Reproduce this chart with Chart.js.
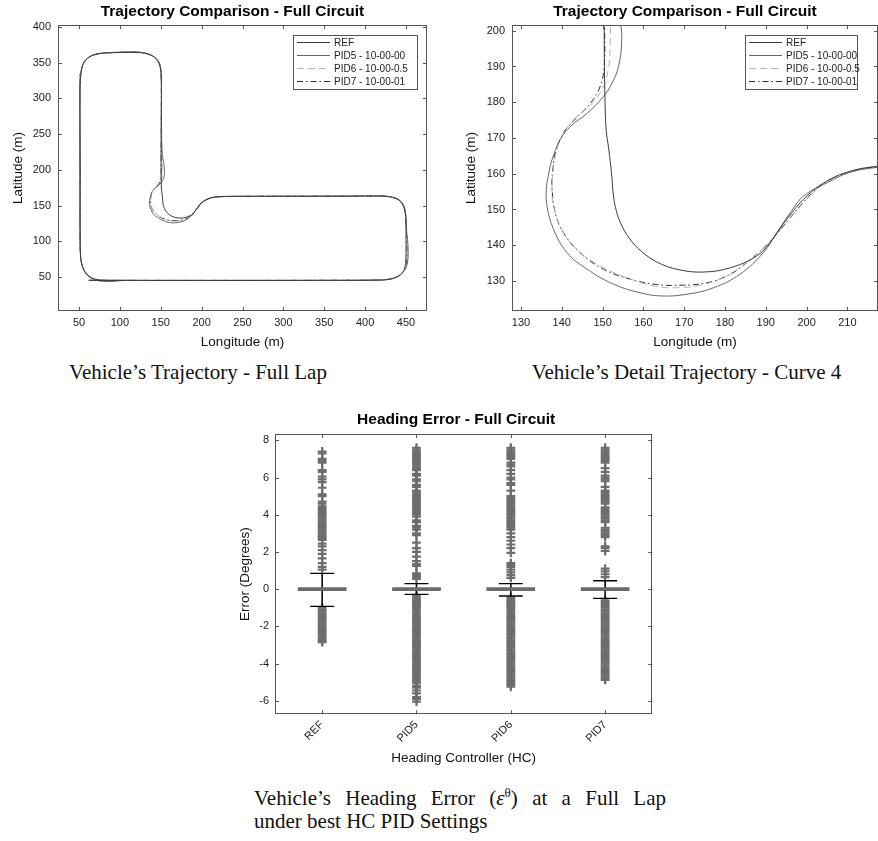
<!DOCTYPE html>
<html>
<head>
<meta charset="utf-8">
<script src="https://cdn.jsdelivr.net/npm/chart.js@4.4.1/dist/chart.umd.min.js"></script>
<style>
  html, body { margin: 0; padding: 0; background: #fff; }
  body { width: 878px; height: 841px; position: relative; overflow: hidden; }
  canvas { position: absolute; }
  .cap { position: absolute; font-family: "Liberation Serif", "Times New Roman", serif; font-size: 21px; color: #111; white-space: nowrap; line-height: 23px; }
  .cap sup { font-size: 13px; line-height: 0; }
  .cap.just { white-space: normal; text-align: justify; text-align-last: justify; }
</style>
</head>
<body>
<canvas id="lapChart" width="440" height="355" style="left:0;top:0"></canvas>
<canvas id="curveChart" width="438" height="355" style="left:440px;top:0"></canvas>
<canvas id="headingChart" width="450" height="372" style="left:220px;top:400px"></canvas>
<div class="cap" style="left:0;width:396px;text-align:center;top:361px">Vehicle’s Trajectory - Full Lap</div>
<div class="cap" style="left:486px;width:401px;text-align:center;top:361px">Vehicle’s Detail Trajectory - Curve 4</div>
<div class="cap just" style="left:254px;top:787px;width:412px">Vehicle’s Heading Error (<i>ε</i><sup>θ</sup>) at a Full Lap</div>
<div class="cap" style="left:254px;top:810px">under best HC PID Settings</div>
<script>
// trajectory data (longitude, latitude in m)
const lapSeries = ['REF', 'PID5 - 10-00-00', 'PID6 - 10-00-0.5', 'PID7 - 10-00-01'];

const refPath = [
  [62,45.3],[150,45.2],[250,45.2],[350,45.3],[415,45.6],
  [428,46.5],[438,49.5],[445,55],[448.5,63],[449.8,75],[450,100],[449.8,128],[448.6,142],[445.5,152],[440,158.5],[431,162],[420,163.2],
  [380,163.1],[300,163],[240,162.9],[225,162.6],[217.5,162.1],[210.7,160.7],[204.9,157.9],[200,153.7],[195.1,147.2],[191,140.7],[187.8,137],
  [181.3,133.7],[174.7,132.5],[168.5,133.2],[163.5,135.2],[159.5,138.3],[156.5,142],[154.5,146],[153.4,149.5],[152.7,153.5],[152.2,160],
  [151.5,167],[150.9,172],[150.6,180],[150.4,200],
  [150.5,260],[150.8,320],[150.2,336],[148.5,347],[145,354.5],[139.5,359.8],[132,363],[120,364.3],[100,364.2],[85,363.8],[75,362.8],
  [66,360.2],[59,355],[55,348],[53,338],[51.8,325],[51.5,300],[51.5,200],[51.5,100],[52,80],[53.2,69],[56.5,58.5],[62,51],[70,47],
  [80,45.4],[95,45.2]
];

const pid5Path = [
  [62,45.4],[150,45.3],[250,45.3],[350,45.4],[415,45.8],
  [429,47],[439,50.5],[446.5,57],[451,66],[452.6,80],[452.3,97],[450.8,115],[450.2,130],[449,143],[446,152.5],[440.5,158.8],[431,162.3],[420,163.6],
  [380,163.3],[300,163.1],[240,162.8],[225,162.5],[217.5,161.8],[210.7,160.4],[204.9,157.4],[199.2,153.7],[196,149.1],[192.7,143.5],
  [189.4,137.9],[183.7,131.9],[177.2,128.1],[170.7,126.3],[164.5,125.8],[159.2,126.7],[152.7,129.1],[146.2,133.3],[141.3,137.9],
  [138,144.4],[136.4,150.9],[136.2,155.6],[136.8,160],[137.6,163.9],[139.6,169.5],[142.1,173.2],[146.2,176.9],[150.2,181.6],
  [152.3,185.3],[153.9,190],[154.7,197.4],[154.3,203],[153.2,212],[151.8,225],[151.1,245],
  [150.9,300],[150.6,330],[149.8,343],[147.2,351.5],[142.5,357.5],[135,362],[124,364.8],[110,365.3],[95,364.6],[80,363.6],[69,361.3],
  [61,356.5],[55.5,349],[52.5,338],[51,325],[50.6,300],[51,200],[51.2,100],[51.8,80],[53,70],[56,60],[61.5,52],[69,46.5],[80,44],
  [88,43.6],[100,44.8],[120,45.3]
];

const pid6Path = [
  [62,45.4],[150,45.2],[250,45.3],[350,45.3],[415,45.7],
  [429,46.8],[439,50.2],[446,56.5],[450.3,65.5],[451.8,80],[451.5,97],[450.5,115],[450,130],[448.8,143],[445.8,152.5],[440.2,158.7],[431,162.2],[420,163.4],
  [380,163.2],[300,163],[240,162.9],[225,162.6],[217.5,161.9],[210.7,160.5],[204.9,157.7],[200,152.8],[195.1,146.3],[190.2,140.2],
  [186.2,136],[180.4,131.4],[173.9,128.8],[167.4,128.1],[162.5,128.6],[156,130.9],[149.4,134.2],[143.7,138.8],[140,144.4],
  [138,150.9],[137.6,156.5],[137.9,161],[138.4,164.9],[140,170.4],[142.9,175.1],[147.4,179.7],[150.2,184.4],[151.5,190],
  [151.9,197],[151.9,203],[151.5,215],[151,235],
  [150.8,300],[150.7,330],[149.9,343],[147.4,351.5],[142.7,357.4],[135.2,361.8],[124,364.6],[110,365],[95,364.4],[80,363.4],[69,361.1],
  [61,356.3],[55.4,348.8],[52.3,338],[50.8,325],[50.5,300],[51,200],[51.2,100],[51.7,80],[52.9,70],[55.8,60],[61.2,52],[68.8,46.6],
  [80,44.2],[88,43.8],[100,44.9],[120,45.3]
];

const pid7Path = [
  [62,45.3],[150,45.3],[250,45.2],[350,45.4],[415,45.7],
  [428.5,46.7],[438.5,50],[445.5,56],[449.8,65],[451.2,80],[451,97],[450.3,115],[450,130],[448.7,143],[445.6,152.4],[440,158.6],[431,162.1],[420,163.3],
  [380,163.2],[300,163.1],[240,162.9],[225,162.6],[217.5,162],[210.7,160.6],[204.9,157.8],[200,153],[195.5,147],[191,141],
  [186.2,136],[181.3,131.9],[175.6,129.5],[169,128.8],[163.3,129],[156.8,130.5],[150.2,133.3],[144.5,137.9],[140.4,143.5],
  [138.4,149.1],[137.6,156.5],[137.8,161],[138.4,165.8],[140.4,171.4],[143.5,175.5],[147,179.7],[149.4,184.4],[150.4,190],
  [150.5,201.6],[150.5,215],[150.6,235],
  [150.7,300],[150.6,330],[149.8,343],[147.3,351.4],[142.6,357.3],[135.1,361.7],[124,364.4],[110,364.8],[95,364.3],[80,363.3],[69,361],
  [61,356.2],[55.3,348.7],[52.2,338],[50.9,325],[50.6,300],[51.1,200],[51.3,100],[51.8,80],[53,70],[55.9,60],[61.3,52],[68.9,46.6],
  [80,44.3],[88,43.9],[100,45],[120,45.3]
];

const lapTicksX = [50, 100, 150, 200, 250, 300, 350, 400, 450];
const lapTicksY = [50, 100, 150, 200, 250, 300, 350, 400];
const curveTicksX = [130, 140, 150, 160, 170, 180, 190, 200, 210];
const curveTicksY = [130, 140, 150, 160, 170, 180, 190, 200];

// heading error box plot (degrees)
const controllers = ['REF', 'PID5', 'PID6', 'PID7'];
const boxLow = [-0.08, -0.08, -0.08, -0.08];
const boxHigh = [0.08, 0.08, 0.08, 0.08];
const medians = [0, 0, 0, 0];
const whiskerHigh = [0.85, 0.3, 0.3, 0.45];
const whiskerLow = [-0.93, -0.28, -0.37, -0.5];
const outliersRef = [7.4, 7.3, 7.0, 6.9, 6.8, 6.4, 6.3, 6.05, 5.9, 5.75, 5.45, 5.1, 5.0, 4.7, 4.6, 4.45, 4.35, 4.25, 4.15, 4.05,
  3.95, 3.85, 3.75, 3.65, 3.55, 3.45, 3.35, 3.25, 3.15, 3.05, 2.95, 2.85, 2.75, 2.65, 2.45, 2.3, 2.1, 1.9, 1.65, 1.4, 1.2, 1.05,
  -1.0, -1.1, -1.2, -1.3, -1.4, -1.5, -1.6, -1.7, -1.8, -1.9, -2.0, -2.1, -2.2, -2.3, -2.4, -2.5, -2.6, -2.7, -2.8, -2.85];
const outliersPid5 = [7.6, 7.5, 7.4, 7.3, 7.2, 7.1, 7.0, 6.9, 6.8, 6.7, 6.6, 6.5, 6.4, 6.2, 6.1, 5.9, 5.8, 5.6, 5.5, 5.3, 5.2, 5.1,
  5.0, 4.9, 4.8, 4.7, 4.6, 4.5, 4.4, 4.3, 4.2, 4.1, 4.0, 3.9, 3.7, 3.6, 3.4, 3.3, 3.2, 3.0, 2.9, 2.5, 2.2, 2.0, 1.75, 1.5, 1.35,
  1.25, 0.85, 0.75, 0.65, 0.55,
  -0.35, -0.45, -0.55, -0.65, -0.75, -0.85, -0.95, -1.05, -1.15, -1.25, -1.35, -1.45, -1.55, -1.65, -1.75, -1.85, -1.95, -2.05,
  -2.15, -2.25, -2.35, -2.45, -2.55, -2.65, -2.75, -2.85, -2.95, -3.05, -3.15, -3.25, -3.35, -3.45, -3.55, -3.65, -3.75, -3.85,
  -3.95, -4.05, -4.15, -4.25, -4.35, -4.45, -4.55, -4.65, -4.75, -4.85, -4.95, -5.05, -5.2, -5.3, -5.45, -5.6, -5.8, -5.9, -6.05];
const outliersPid6 = [7.6, 7.5, 7.4, 7.3, 7.2, 7.1, 7.0, 6.8, 6.7, 6.6, 6.4, 6.2, 6.0, 5.9, 5.7, 5.6, 5.3, 5.0, 4.9, 4.8, 4.7, 4.6,
  4.5, 4.4, 4.3, 4.2, 4.1, 4.0, 3.9, 3.8, 3.7, 3.6, 3.5, 3.4, 3.3, 3.2, 3.0, 2.8, 2.6, 2.4, 2.2, 1.95, 1.4, 1.3, 1.2, 1.05, 0.9,
  0.75, 0.6,
  -0.45, -0.55, -0.65, -0.75, -0.85, -0.95, -1.05, -1.15, -1.25, -1.35, -1.45, -1.55, -1.65, -1.75, -1.85, -1.95, -2.05, -2.15,
  -2.25, -2.35, -2.45, -2.55, -2.65, -2.75, -2.85, -2.95, -3.05, -3.15, -3.25, -3.35, -3.45, -3.55, -3.65, -3.75, -3.85, -3.95,
  -4.05, -4.15, -4.25, -4.35, -4.45, -4.55, -4.65, -4.75, -4.85, -4.95, -5.05, -5.15, -5.25];
const outliersPid7 = [7.6, 7.5, 7.4, 7.3, 7.2, 7.1, 7.0, 6.9, 6.8, 6.5, 6.3, 6.1, 6.0, 5.9, 5.8, 5.5, 5.3, 5.2, 5.1, 5.0, 4.9, 4.8,
  4.7, 4.6, 4.4, 4.3, 4.2, 4.1, 4.0, 3.9, 3.8, 3.7, 3.6, 3.3, 3.2, 3.1, 3.0, 2.9, 2.8, 2.3, 2.2, 2.05, 1.1, 0.95, 0.8, 0.65,
  -0.6, -0.7, -0.8, -0.9, -1.0, -1.1, -1.2, -1.3, -1.4, -1.5, -1.6, -1.7, -1.8, -1.9, -2.0, -2.1, -2.2, -2.3, -2.4, -2.5, -2.6,
  -2.7, -2.8, -2.9, -3.0, -3.1, -3.2, -3.3, -3.4, -3.5, -3.6, -3.7, -3.8, -3.9, -4.0, -4.1, -4.2, -4.3, -4.4, -4.5, -4.6, -4.7,
  -4.8, -4.88];
const errorTicks = [-6, -4, -2, 0, 2, 4, 6, 8];

const lineStyles = [
  { color: '#3a3a3a', dash: [] },
  { color: '#686868', dash: [] },
  { color: '#b4b4b4', dash: [7, 4] },
  { color: '#2c2c2c', dash: [6, 3, 1.5, 3] }
];

Chart.defaults.font.family = '"Liberation Sans", Arial, Helvetica, sans-serif';
Chart.defaults.color = '#222';

// matlab style axes box with inward ticks on all four sides
const axisBox = {
  id: 'axisBox',
  afterDatasetsDraw(chart) {
    const { ctx, chartArea: a, scales: { x, y } } = chart;
    const len = 4;
    ctx.save();
    ctx.strokeStyle = '#555';
    ctx.lineWidth = 1;
    ctx.beginPath();
    x.ticks.forEach((t, i) => {
      const px = Math.round(x.getPixelForTick(i)) + 0.5;
      ctx.moveTo(px, a.bottom); ctx.lineTo(px, a.bottom - len);
      ctx.moveTo(px, a.top); ctx.lineTo(px, a.top + len);
    });
    y.ticks.forEach((t, i) => {
      const py = Math.round(y.getPixelForTick(i)) + 0.5;
      ctx.moveTo(a.left, py); ctx.lineTo(a.left + len, py);
      ctx.moveTo(a.right, py); ctx.lineTo(a.right - len, py);
    });
    ctx.stroke();
    ctx.strokeRect(Math.round(a.left) + 0.5, Math.round(a.top) + 0.5, Math.round(a.width) - 1, Math.round(a.height) - 1);
    ctx.restore();
  }
};

// boxed legend with line samples, placed top right inside the axes
const boxLegend = {
  id: 'boxLegend',
  afterDraw(chart, args, opts) {
    if (!opts || opts.right === undefined) return;
    const { ctx, chartArea: a } = chart;
    const sets = chart.data.datasets;
    ctx.save();
    ctx.font = '10px "Liberation Sans", Arial, sans-serif';
    const textW = Math.max(...sets.map(d => ctx.measureText(d.label).width));
    const rowH = 13, sample = 33;
    const w = 4 + sample + 4 + textW + opts.padRight;
    const h = sets.length * rowH + 2;
    const x0 = Math.round(a.right - opts.right - w), y0 = Math.round(a.top + opts.top);
    ctx.fillStyle = '#fff';
    ctx.fillRect(x0, y0, w, h);
    ctx.strokeStyle = '#555';
    ctx.lineWidth = 1;
    ctx.strokeRect(x0 + 0.5, y0 + 0.5, Math.round(w), h);
    sets.forEach((d, i) => {
      const cy = y0 + 7.5 + i * rowH;
      ctx.strokeStyle = d.borderColor;
      ctx.lineWidth = d.borderWidth;
      ctx.setLineDash(d.borderDash || []);
      ctx.beginPath();
      ctx.moveTo(x0 + 4, cy);
      ctx.lineTo(x0 + 4 + sample, cy);
      ctx.stroke();
      ctx.setLineDash([]);
      ctx.fillStyle = '#222';
      ctx.textBaseline = 'middle';
      ctx.fillText(d.label, x0 + 8 + sample, cy + 0.5);
    });
    ctx.restore();
  }
};

const titleShift = {
  id: 'titleShift',
  afterLayout(chart, args, opts) {
    const t = chart.titleBlock;
    if (t && opts && opts.dx) { t.left += opts.dx; t.right += opts.dx; }
  }
};

function makeTrajSets() {
  return [refPath, pid5Path, pid6Path, pid7Path].map((path, i) => ({
    label: lapSeries[i],
    data: path.map(p => ({ x: p[0], y: p[1] })),
    showLine: true,
    borderColor: lineStyles[i].color,
    borderWidth: 1,
    borderDash: lineStyles[i].dash,
    pointRadius: 0,
    tension: 0.4,
    capBezierPoints: false,
    fill: false
  }));
}

function trajOptions(cfg) {
  return {
    responsive: false,
    animation: false,
    events: [],
    layout: { autoPadding: false, padding: { left: 0, right: cfg.padRight, top: 0, bottom: 0 } },
    plugins: {
      legend: { display: false },
      tooltip: { enabled: false },
      title: {
        display: true, text: 'Trajectory Comparison - Full Circuit', fullSize: false, color: '#000',
        font: { size: 15.5, weight: 'bold' }, padding: { top: 2.4, bottom: 4 }
      },
      boxLegend: cfg.legend,
      titleShift: { dx: cfg.titleDx }
    },
    scales: {
      x: {
        type: 'linear', min: cfg.xRange[0], max: cfg.xRange[1],
        grid: { display: false, drawTicks: false }, border: { display: false },
        afterBuildTicks: s => { s.ticks = cfg.xTicks.map(v => ({ value: v })); },
        afterFit: s => { s.height = 44; },
        ticks: { font: { size: 11 }, color: '#222', padding: 5, maxRotation: 0, autoSkip: false },
        title: { display: true, text: 'Longitude (m)', color: '#111', font: { size: 13.5 }, padding: { top: 0, bottom: 4.4 } }
      },
      y: {
        type: 'linear', min: cfg.yRange[0], max: cfg.yRange[1],
        grid: { display: false, drawTicks: false }, border: { display: false },
        afterBuildTicks: s => { s.ticks = cfg.yTicks.map(v => ({ value: v })); },
        afterFit: s => { s.width = cfg.yWidth; },
        ticks: { font: { size: 11 }, color: '#222', padding: 7, autoSkip: false },
        title: { display: true, text: 'Latitude (m)', color: '#111', font: { size: 13.5 }, padding: { top: cfg.yTitlePad, bottom: 0 } }
      }
    }
  };
}

new Chart(document.getElementById('lapChart'), {
  type: 'scatter',
  data: { datasets: makeTrajSets() },
  options: trajOptions({
    xRange: [24.3, 475.7], yRange: [2.4, 402.8], xTicks: lapTicksX, yTicks: lapTicksY,
    padRight: 13, yWidth: 58, yTitlePad: 9.9, titleDx: -10,
    legend: { right: 10, top: 10, padRight: 9.5 }
  }),
  plugins: [axisBox, boxLegend, titleShift]
});

new Chart(document.getElementById('curveChart'), {
  type: 'scatter',
  data: { datasets: makeTrajSets() },
  options: trajOptions({
    xRange: [127.8, 217.5], yRange: [121.6, 201.6], xTicks: curveTicksX, yTicks: curveTicksY,
    padRight: 0, yWidth: 72, yTitlePad: 23.6, titleDx: -10,
    legend: { right: 21, top: 10, padRight: -3 }
  }),
  plugins: [axisBox, boxLegend, titleShift]
});

const outlierLists = [outliersRef, outliersPid5, outliersPid6, outliersPid7];
const outlierPoints = [];
outlierLists.forEach((list, i) => list.forEach(v => outlierPoints.push({ x: controllers[i], y: v })));
const capPoints = [];
controllers.forEach((c, i) => {
  capPoints.push({ x: c, y: whiskerHigh[i] });
  capPoints.push({ x: c, y: whiskerLow[i] });
});

new Chart(document.getElementById('headingChart'), {
  type: 'bar',
  data: {
    labels: controllers,
    datasets: [
      {
        type: 'scatter', label: 'Outliers', data: outlierPoints, order: 5,
        pointStyle: 'cross', pointRadius: 4.4, borderColor: '#6d6d6d', borderWidth: 2.2, backgroundColor: '#6d6d6d'
      },
      {
        type: 'bar', label: 'Upper whisker', data: controllers.map((c, i) => [boxHigh[i], whiskerHigh[i]]),
        backgroundColor: '#111', barThickness: 1, grouped: false, order: 3
      },
      {
        type: 'bar', label: 'Lower whisker', data: controllers.map((c, i) => [whiskerLow[i], boxLow[i]]),
        backgroundColor: '#111', barThickness: 1, grouped: false, order: 3
      },
      {
        type: 'scatter', label: 'Whisker caps', data: capPoints, order: 2,
        pointStyle: 'line', pointRadius: 12, borderColor: '#000', borderWidth: 1.3
      },
      {
        type: 'bar', label: 'Box', data: controllers.map((c, i) => [boxLow[i], boxHigh[i]]),
        backgroundColor: '#6b6b6b', barThickness: 48, grouped: false, order: 1
      },
      {
        type: 'scatter', label: 'Median', data: controllers.map((c, i) => ({ x: c, y: medians[i] })), order: 0,
        pointStyle: 'line', pointRadius: 24, borderColor: '#6b6b6b', borderWidth: 2
      }
    ]
  },
  options: {
    responsive: false,
    animation: false,
    events: [],
    layout: { autoPadding: false, padding: { left: 0, right: 17.7, top: 0, bottom: 0 } },
    plugins: {
      legend: { display: false },
      tooltip: { enabled: false },
      title: {
        display: true, text: 'Heading Error - Full Circuit', fullSize: false, color: '#000',
        font: { size: 15.5, weight: 'bold' }, padding: { top: 10.7, bottom: 4.7 }
      },
      titleShift: { dx: -7.5 }
    },
    scales: {
      x: {
        type: 'category', offset: true,
        grid: { display: false, drawTicks: false }, border: { display: false },
        afterFit: s => { s.height = 57.7; },
        ticks: { font: { size: 11 }, color: '#222', padding: 4, maxRotation: 45, minRotation: 45, autoSkip: false },
        title: { display: true, text: 'Heading Controller (HC)', color: '#111', font: { size: 13.5 }, padding: { top: 0, bottom: 5.4 } }
      },
      y: {
        type: 'linear', min: -6.73, max: 8.34,
        grid: { display: false, drawTicks: false }, border: { display: false },
        afterBuildTicks: s => { s.ticks = errorTicks.map(v => ({ value: v })); },
        afterFit: s => { s.width = 55; },
        ticks: { font: { size: 11 }, color: '#222', padding: 6, autoSkip: false },
        title: { display: true, text: 'Error (Degrees)', color: '#111', font: { size: 13.5 }, padding: { top: 16.9, bottom: 0 } }
      }
    }
  },
  plugins: [axisBox, titleShift]
});
</script>
</body>
</html>
